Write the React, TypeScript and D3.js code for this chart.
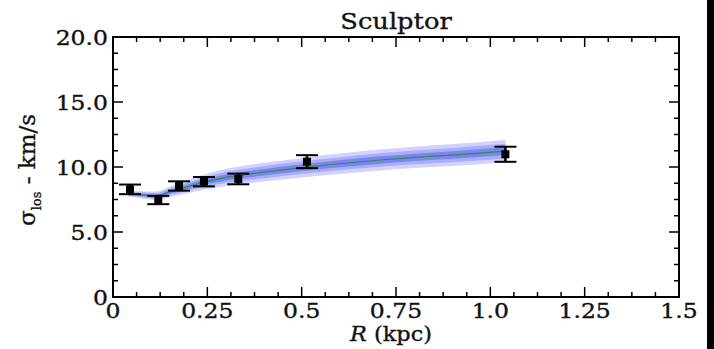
import React from "react";
import * as d3 from "d3";

const obsR = [0.045, 0.12, 0.175, 0.241, 0.332, 0.514, 1.04];
const obsSigma = [8.28, 7.46, 8.54, 8.87, 9.08, 10.41, 10.98];
const obsErr = [0.37, 0.32, 0.36, 0.36, 0.41, 0.5, 0.58];

const modelR = [0.04, 0.08, 0.115, 0.15, 0.2, 0.25, 0.3, 0.35, 0.4, 0.5, 0.6, 0.7, 0.8, 0.9, 1.04];
const modelMedian = [7.95, 7.85, 7.78, 8.08, 8.5, 8.9, 9.2, 9.42, 9.6, 9.95, 10.25, 10.52, 10.74, 10.92, 11.22];
const outerHalf = [0.22, 0.28, 0.33, 0.4, 0.5, 0.6, 0.66, 0.7, 0.72, 0.75, 0.78, 0.8, 0.82, 0.84, 0.86];
const innerFrac = [0.35, 0.65];

const xTicks = [0, 0.25, 0.5, 0.75, 1.0, 1.25, 1.5];
const xTickLabels = ["0", "0.25", "0.5", "0.75", "1.0", "1.25", "1.5"];
const yTicks = [0, 5, 10, 15, 20];
const yTickLabels = ["0", "5.0", "10.0", "15.0", "20.0"];

const W = 714, H = 349;
const L = 113, R = 679, T = 37, B = 297;
const FONT = "DejaVu Serif";
const SX = 1.12;

export default function App() {
  const x = d3.scaleLinear().domain([0, 1.5]).range([L, R]);
  const y = d3.scaleLinear().domain([0, 20]).range([B, T]);

  const idx = modelR.map((_, i) => i);
  const band = (f: number) =>
    d3.area<number>()
      .x((i) => x(modelR[i]))
      .y0((i) => y(modelMedian[i] - outerHalf[i] * f))
      .y1((i) => y(modelMedian[i] + outerHalf[i] * f))
      .curve(d3.curveMonotoneX)(idx) || "";
  const line = d3.line<number>().x((i) => x(modelR[i])).y((i) => y(modelMedian[i])).curve(d3.curveMonotoneX)(idx) || "";

  const xMinor = d3.range(0, 1.5 + 1e-9, 0.0625).filter((v) => Math.abs(v / 0.25 - Math.round(v / 0.25)) > 1e-6);
  const yMinor = d3.range(0, 20 + 1e-9, 1.25).filter((v) => Math.abs(v / 5 - Math.round(v / 5)) > 1e-6);
  const MAJ = 10, MIN = 5;

  return (
    <svg width={W} height={H} style={{ position: "absolute", left: 0, top: 0, background: "#fff" }}>
      <rect x={0} y={0} width={W} height={H} fill="#fff" />
      {/* band */}
      <path d={band(1)} fill="#d2d2ff" />
      <path d={band(innerFrac[1])} fill="#a8aef8" />
      <path d={band(innerFrac[0])} fill="#7c84ee" />
      <path d={line} fill="none" stroke="#2e8b57" strokeWidth={1.2} />
      {/* error bars */}
      {obsR.map((r, i) => {
        const cx = x(r), cy = y(obsSigma[i]);
        const t = y(obsSigma[i] + obsErr[i]), b = y(obsSigma[i] - obsErr[i]);
        return (
          <g key={i} stroke="#000">
            <line x1={cx} x2={cx} y1={t} y2={b} strokeWidth={2.5} />
            <line x1={cx - 11} x2={cx + 11} y1={t} y2={t} strokeWidth={2} />
            <line x1={cx - 11} x2={cx + 11} y1={b} y2={b} strokeWidth={2} />
            <rect x={cx - 4} y={cy - 4} width={8} height={8} fill="#000" stroke="none" />
          </g>
        );
      })}
      {/* ticks */}
      <g stroke="#000" strokeWidth={1.5}>
        {xTicks.map((v, i) => (
          <g key={"xm" + i}>
            <line x1={x(v)} x2={x(v)} y1={B} y2={B - MAJ} />
            <line x1={x(v)} x2={x(v)} y1={T} y2={T + MAJ} />
          </g>
        ))}
        {xMinor.map((v, i) => (
          <g key={"xn" + i}>
            <line x1={x(v)} x2={x(v)} y1={B} y2={B - MIN} />
            <line x1={x(v)} x2={x(v)} y1={T} y2={T + MIN} />
          </g>
        ))}
        {yTicks.map((v, i) => (
          <g key={"ym" + i}>
            <line x1={L} x2={L + MAJ} y1={y(v)} y2={y(v)} />
            <line x1={R} x2={R - MAJ} y1={y(v)} y2={y(v)} />
          </g>
        ))}
        {yMinor.map((v, i) => (
          <g key={"yn" + i}>
            <line x1={L} x2={L + MIN} y1={y(v)} y2={y(v)} />
            <line x1={R} x2={R - MIN} y1={y(v)} y2={y(v)} />
          </g>
        ))}
      </g>
      <rect x={L} y={T} width={R - L} height={B - T} fill="none" stroke="#000" strokeWidth={2} />
      {/* tick labels */}
      <g fontFamily={FONT} fontSize={21} fill="#111" stroke="#111" strokeWidth={0.35}>
        {xTicks.map((v, i) => (
          <text key={"xl" + i} transform={`translate(${x(v)},318) scale(${SX},1)`} textAnchor="middle">{xTickLabels[i]}</text>
        ))}
        {yTicks.map((v, i) => (
          <text key={"yl" + i} transform={`translate(108,${y(v) + 8}) scale(${SX},1)`} textAnchor="end">{yTickLabels[i]}</text>
        ))}
      </g>
      <text transform={`translate(${(L + R) / 2},29) scale(${SX},1)`} textAnchor="middle" fontFamily={FONT} fontSize={23} fill="#111" stroke="#111" strokeWidth={0.35}>Sculptor</text>
      <text transform={`translate(391,341) scale(${SX},1)`} textAnchor="middle" fontFamily={FONT} fontSize={20} fill="#111" stroke="#111" strokeWidth={0.35}>
        <tspan fontStyle="italic">R</tspan> (kpc)
      </text>
      <text transform={`translate(35,170) rotate(-90)`} textAnchor="middle" fontFamily={FONT} fontSize={23} fill="#111" stroke="#111" strokeWidth={0.35}>
        σ<tspan fontSize={13} dy={6}>los</tspan><tspan dy={-6}> - km/s</tspan>
      </text>
      <rect x={707} y={0} width={7} height={H} fill="#000" />
    </svg>
  );
}
